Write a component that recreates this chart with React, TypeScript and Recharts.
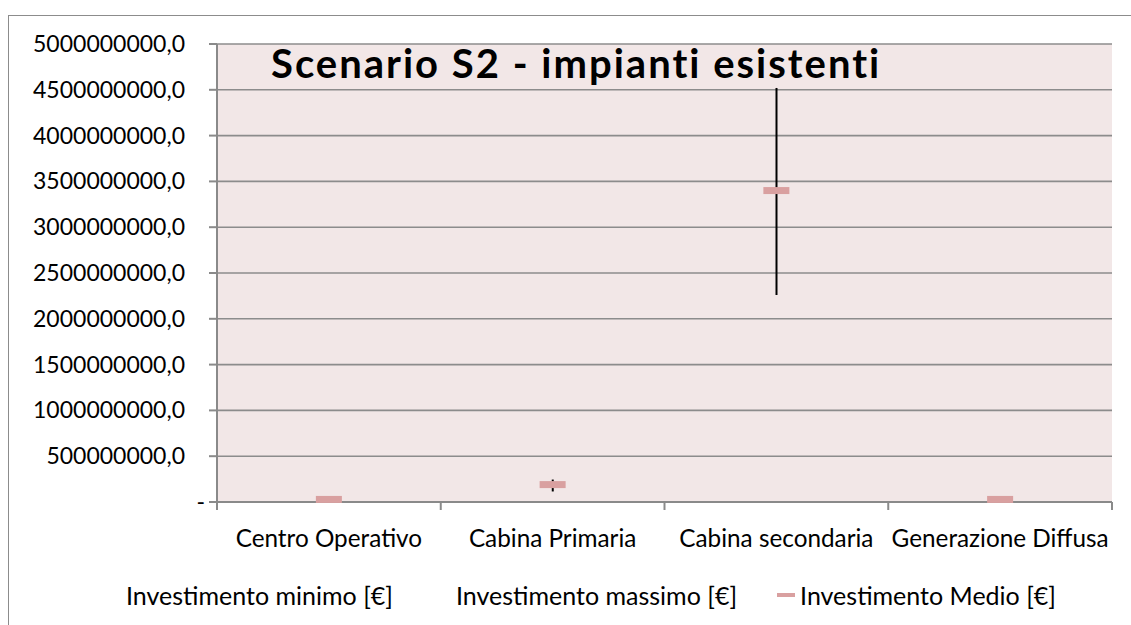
import {
  Bar,
  CartesianGrid,
  ComposedChart,
  Legend,
  Line,
  XAxis,
  YAxis,
} from "recharts";

const categories = [
  "Centro Operativo",
  "Cabina Primaria",
  "Cabina secondaria",
  "Generazione Diffusa",
];
const minInvestment = [15000000, 115000000, 2260000000, 15000000];
const maxInvestment = [40000000, 245000000, 4520000000, 40000000];
const avgInvestment = [28000000, 190000000, 3400000000, 28000000];
const yTicks = [
  0, 500000000, 1000000000, 1500000000, 2000000000, 2500000000, 3000000000,
  3500000000, 4000000000, 4500000000, 5000000000,
];

const title = "Scenario S2 - impianti esistenti";
const legendLabels = [
  "Investimento minimo [€]",
  "Investimento massimo [€]",
  "Investimento Medio [€]",
];

const data = categories.map((name, i) => ({
  name,
  range: [minInvestment[i], maxInvestment[i]],
  medio: avgInvestment[i],
}));

const FONT = "Lato, 'Open Sans', sans-serif";
const W = 1122;
const H = 609;
const MARGIN = { top: 28, right: 19, bottom: 10, left: 8 };
const Y_AXIS_W = 200;
const BAND = (W - MARGIN.left - MARGIN.right - Y_AXIS_W) / categories.length;
const COLORS = {
  plot: "#F2E7E7",
  grid: "#8c8c8c",
  axis: "#8a8a8a",
  medio: "#D9A0A0",
  text: "#000000",
};

function YTick(props: any) {
  const { x, y, payload } = props;
  const v = payload.value;
  return (
    <text
      x={v === 0 ? x + 20 : x}
      y={y}
      dy={8}
      textAnchor="end"
      fontFamily={FONT}
      fontSize={23}
      fill={COLORS.text}
    >
      {v === 0 ? "-" : `${v},0`}
    </text>
  );
}

function XTick(props: any) {
  const { x, y, payload, index } = props;
  const half = BAND / 2;
  return (
    <g>
      <line x1={x - half} x2={x - half} y1={y} y2={y + 8} stroke={COLORS.axis} strokeWidth={2} />
      {index === categories.length - 1 && (
        <line x1={x + half} x2={x + half} y1={y} y2={y + 8} stroke={COLORS.axis} strokeWidth={2} />
      )}
      <text
        x={x}
        y={y + 45}
        textAnchor="middle"
        fontFamily={FONT}
        fontSize={24.3}
        fill={COLORS.text}
      >
        {payload.value}
      </text>
    </g>
  );
}

function MedioMark(props: any) {
  const { cx, cy } = props;
  if (cx == null || cy == null) return null;
  return <rect x={cx - 13} y={cy - 3.5} width={26} height={7} fill={COLORS.medio} />;
}

function LegendContent() {
  return (
    <div
      style={{
        display: "flex",
        justifyContent: "center",
        alignItems: "center",
        gap: 40,
        height: 40,
        paddingLeft: 30,
        fontFamily: FONT,
        fontSize: 25,
        color: COLORS.text,
      }}
    >
      {legendLabels.map((label, i) => (
        <div key={label} style={{ display: "flex", alignItems: "center", gap: 5 }}>
          <span
            style={{
              display: "inline-block",
              width: 18,
              height: 4,
              background: i === 2 ? COLORS.medio : "transparent",
            }}
          />
          <span>{label}</span>
        </div>
      ))}
    </div>
  );
}

export default function App() {
  return (
    <div
      style={{
        position: "absolute",
        left: 8,
        top: 15,
        width: W + 1,
        height: H + 1,
        borderLeft: "1px solid #8c8c8c",
        borderTop: "1px solid #8c8c8c",
        background: "#fff",
        overflow: "hidden",
      }}
    >
      <ComposedChart width={W} height={H} data={data} margin={MARGIN}>
        <CartesianGrid
          vertical={false}
          stroke={COLORS.grid}
          strokeWidth={1.6}
          fill={COLORS.plot}
          fillOpacity={1}
        />
        <XAxis
          dataKey="name"
          height={73}
          tick={<XTick />}
          tickLine={false}
          tickSize={0}
          tickMargin={0}
          axisLine={{ stroke: COLORS.axis, strokeWidth: 2 }}
          interval={0}
        />
        <YAxis
          width={Y_AXIS_W}
          domain={[0, 5000000000]}
          ticks={yTicks}
          interval={0}
          tick={<YTick />}
          tickSize={8}
          tickMargin={24}
          tickLine={{ stroke: COLORS.axis, strokeWidth: 2 }}
          axisLine={{ stroke: COLORS.axis, strokeWidth: 2 }}
        />
        <Legend verticalAlign="bottom" height={40} content={<LegendContent />} />
        <Bar dataKey="range" barSize={2} fill="#000" isAnimationActive={false} />
        <Line
          dataKey="medio"
          stroke="none"
          dot={<MedioMark />}
          activeDot={false}
          isAnimationActive={false}
        />
      </ComposedChart>
      <div
        style={{
          position: "absolute",
          left: 262,
          top: 23,
          fontFamily: FONT,
          fontWeight: 700,
          fontSize: 40,
          lineHeight: "48px",
          letterSpacing: 2,
          color: COLORS.text,
          whiteSpace: "nowrap",
        }}
      >
        {title}
      </div>
    </div>
  );
}
